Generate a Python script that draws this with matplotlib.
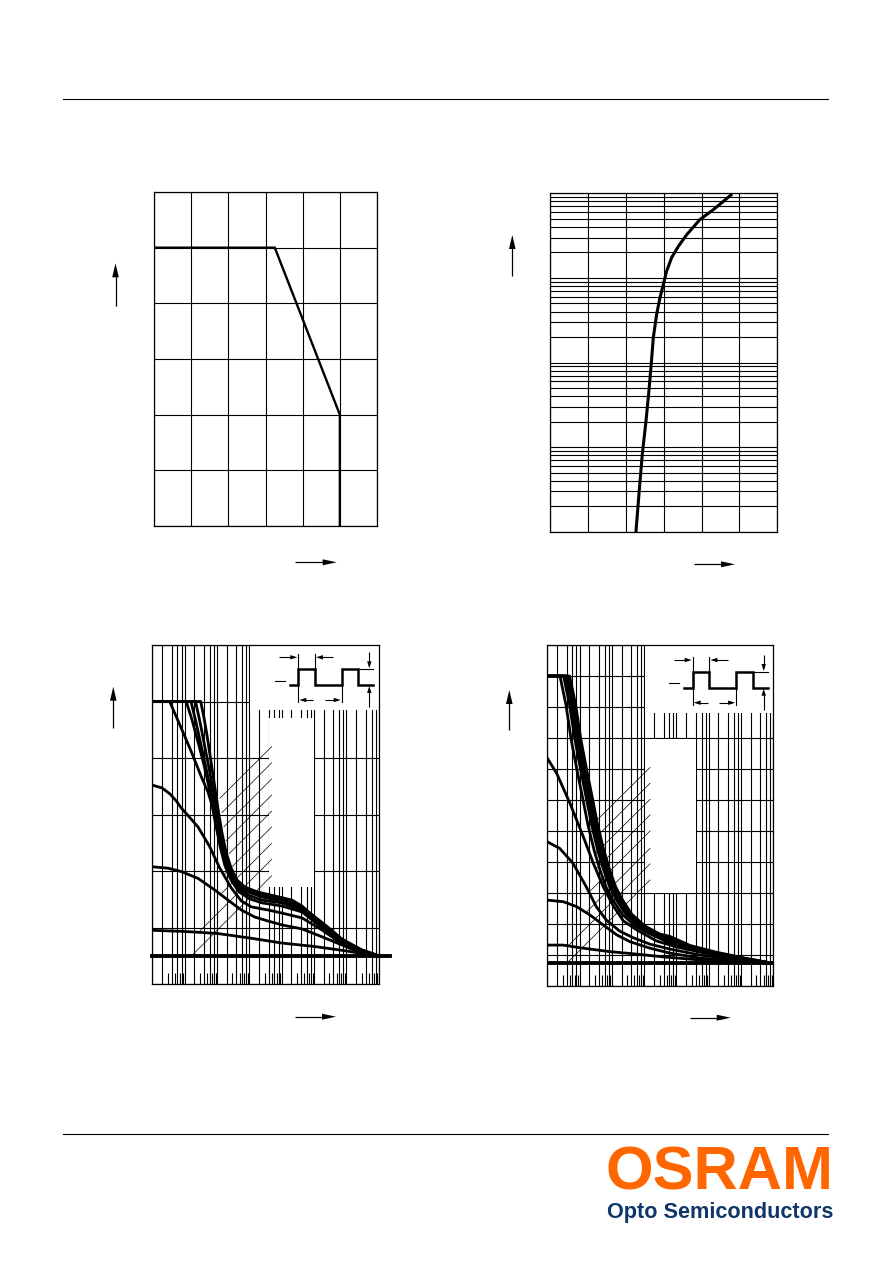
import matplotlib
matplotlib.use("Agg")
import matplotlib.pyplot as plt
from matplotlib.patches import Rectangle, Polygon
from matplotlib.ticker import FixedLocator, NullFormatter, LogLocator

# ======================= DATA =======================
# Chart 1 : derating curve
derate_T = [0, 65, 100, 100]
derate_I = [100, 100, 40, 0]
c1_xticks = [0, 20, 40, 60, 80, 100, 120]
c1_yticks = [0, 20, 40, 60, 80, 100, 120]

# Chart 2 : forward current vs forward voltage
fwd_V = [1.132, 1.176, 1.216, 1.264, 1.30, 1.335, 1.361, 1.405, 1.449, 1.493,
         1.537, 1.604, 1.692, 1.802, 1.978, 2.154, 2.388]
fwd_I = [1e-4, 3.1e-4, 8.3e-4, 2.0e-3, 4.3e-3, 9.8e-3, 1.95e-2, 3.7e-2, 5.8e-2,
         8.3e-2, 0.12, 0.174, 0.236, 0.324, 0.49, 0.64, 0.955]
c2_xticks = [0, 0.5, 1.0, 1.5, 2.0, 2.5, 3.0]

# Chart 3 : pulse handling capability (t_p in s, I_F in A)
c3_dc_t = [1e-5, 2.2e2]
c3_dc_I = [0.1, 0.1]
c3_d05_t = [1e-5, 1e-4, 1e-3, 1e-2, 1e-1, 1, 10, 30, 100]
c3_d05_I = [0.19, 0.186, 0.179, 0.163, 0.145, 0.133, 0.117, 0.108, 0.1]
c3_d02_t = [1e-5, 3.06e-5, 7.89e-5, 2.59e-4, 8.49e-4, 2.19e-3, 5.65e-3, 1.47e-2,
            3.78e-2, 0.103, 0.426, 1.77, 7.36, 30.5, 100]
c3_d02_I = [0.415, 0.41, 0.398, 0.374, 0.333, 0.297, 0.262, 0.237, 0.223, 0.209,
            0.195, 0.167, 0.138, 0.109, 0.1]
c3_d01_t = [1e-5, 2e-5, 3.5e-5, 5.5e-5, 7.89e-5, 1.4e-4, 2.59e-4, 5.96e-4, 1.21e-3,
            2.77e-3, 5.65e-3, 1.15e-2, 3.78e-2, 0.103, 0.426, 1.77, 7.36, 30.5, 100]
c3_d01_I = [0.704, 0.694, 0.673, 0.648, 0.623, 0.591, 0.556, 0.486, 0.411, 0.34,
            0.294, 0.273, 0.262, 0.251, 0.234, 0.191, 0.142, 0.11, 0.1]
c3_d005_t = [1e-5, 3.45e-5, 7.89e-5, 1.61e-4, 3.27e-4, 5.27e-4, 7.02e-4, 9.33e-4,
             1.24e-3, 1.77e-3, 2.72e-3, 4.8e-3, 1.05e-2, 2.47e-2, 0.103, 0.426,
             1.53, 6.37, 30.5, 100]
c3_d005_I = [1.0, 1.0, 0.905, 0.822, 0.734, 0.68, 0.634, 0.559, 0.489, 0.418,
             0.368, 0.326, 0.301, 0.287, 0.276, 0.255, 0.205, 0.152, 0.113, 0.1]
c3_d002_t = [1e-5, 1.12e-4, 1.69e-4, 2.59e-4, 3.97e-4, 5.66e-4, 7.53e-4, 1.0e-3,
             1.33e-3, 1.9e-3, 2.91e-3, 5.15e-3, 1.05e-2, 2.47e-2, 0.103, 0.426,
             1.53, 6.37, 30.5, 100]
c3_d002_I = [1.0, 1.0, 0.935, 0.857, 0.775, 0.697, 0.623, 0.552, 0.481, 0.418,
             0.368, 0.333, 0.312, 0.297, 0.287, 0.262, 0.212, 0.156, 0.117, 0.1]
c3_d001_t = [1e-5, 1.57e-4, 2.24e-4, 3.21e-4, 4.57e-4, 6.31e-4, 8.38e-4, 1.11e-3,
             1.48e-3, 2.11e-3, 3.24e-3, 5.53e-3, 1.13e-2, 2.47e-2, 0.103, 0.426,
             1.53, 6.37, 30.5, 100]
c3_d001_I = [1.0, 1.0, 0.927, 0.846, 0.765, 0.687, 0.616, 0.545, 0.478, 0.418,
             0.372, 0.34, 0.322, 0.308, 0.294, 0.269, 0.218, 0.159, 0.119, 0.1]
c3_d0005_t = [1e-5, 2.17e-4, 2.99e-4, 4.11e-4, 5.66e-4, 7.53e-4, 9.66e-4, 1.24e-3,
              1.65e-3, 2.36e-3, 3.61e-3, 6.38e-3, 1.30e-2, 2.47e-2, 0.103, 0.426,
              1.53, 6.37, 30.5, 100]
c3_d0005_I = [1.0, 1.0, 0.927, 0.846, 0.765, 0.687, 0.616, 0.545, 0.478, 0.418,
              0.372, 0.34, 0.326, 0.315, 0.301, 0.273, 0.223, 0.163, 0.12, 0.1]
c3_single_t = [1e-5, 3.14e-4, 3.97e-4, 4.91e-4, 6.08e-4, 7.53e-4, 9.33e-4, 1.15e-3,
               1.43e-3, 1.9e-3, 2.72e-3, 4.16e-3, 7.35e-3, 1.5e-2, 2.47e-2, 8.28e-2,
               0.209, 0.426, 0.867, 2.91, 9.1, 30.5, 100]
c3_single_I = [1.0, 1.0, 0.942, 0.881, 0.811, 0.74, 0.669, 0.598, 0.535, 0.467,
               0.411, 0.368, 0.343, 0.329, 0.322, 0.308, 0.297, 0.276, 0.244,
               0.198, 0.15, 0.12, 0.1]
c3_lead_t0 = [1.24e-3, 1.43e-3, 1.65e-3, 1.9e-3, 2.36e-3, 1.59e-3, 1.24e-3, 2.59e-4, 1.43e-4]
c3_lead_I0 = [0.658, 0.607, 0.557, 0.507, 0.461, 0.385, 0.315, 0.181, 0.093]
c3_lead_t1 = [0.049, 0.049, 0.049, 0.049, 0.049, 0.049, 0.049, 0.049, 0.049]
c3_lead_I1 = [0.84, 0.783, 0.726, 0.669, 0.612, 0.556, 0.498, 0.441, 0.383]
c3_yticks = [0, 0.2, 0.4, 0.6, 0.8, 1.0, 1.2]

# Chart 4 : pulse handling capability, second condition
c4_dc_t = [1e-5, 100]
c4_dc_I = [0.073, 0.073]
c4_d05_t = [1e-5, 3.06e-5, 1.28e-4, 8.55e-4, 5.7e-3, 3.83e-2, 0.536, 9.3, 100]
c4_d05_I = [0.132, 0.132, 0.122, 0.111, 0.103, 0.094, 0.084, 0.077, 0.073]
c4_d02_t = [1e-5, 3.13e-5, 8.13e-5, 2.1e-4, 5.42e-4, 1.41e-3, 3.64e-3, 1.51e-2,
            6.3e-2, 0.536, 9.3, 100]
c4_d02_I = [0.277, 0.272, 0.256, 0.229, 0.197, 0.165, 0.143, 0.122, 0.106, 0.09,
            0.079, 0.073]
c4_d01_t = [1e-5, 2.42e-5, 6.25e-5, 1.61e-4, 3.29e-4, 6.71e-4, 1.75e-3, 4.51e-3,
            1.51e-2, 6.3e-2, 0.536, 9.3, 100]
c4_d01_I = [0.465, 0.444, 0.396, 0.32, 0.256, 0.213, 0.177, 0.156, 0.135, 0.119,
            0.1, 0.084, 0.073]
c4_d005_t = [1e-5, 1.95e-5, 5.05e-5, 1.3e-4, 2.66e-4, 5.42e-4, 1.11e-3, 2.26e-3,
             5.87e-3, 2.44e-2, 0.1016, 0.865, 9.3, 100]
c4_d005_I = [0.735, 0.686, 0.589, 0.482, 0.396, 0.32, 0.258, 0.21, 0.181, 0.145,
             0.126, 0.105, 0.087, 0.073]
c4_d002_t = [1e-5, 2.47e-5, 3.8e-5, 5.5e-5, 8.3e-5, 1.28e-4, 1.82e-4, 2.8e-4, 4.3e-4,
             6.6e-4, 1.08e-3, 2.06e-3, 5.2e-3, 1.5e-2, 6.3e-2, 0.26, 1.56, 13, 100]
c4_d002_I = [1.0, 1.0, 0.906, 0.794, 0.697, 0.6, 0.519, 0.439, 0.374, 0.319, 0.277,
             0.232, 0.194, 0.168, 0.139, 0.119, 0.102, 0.086, 0.073]
c4_d001_t = [1e-5, 3.2e-5, 4.9e-5, 7.2e-5, 1.08e-4, 1.66e-4, 2.37e-4, 3.6e-4, 5.6e-4,
             8.6e-4, 1.4e-3, 2.7e-3, 6.8e-3, 1.95e-2, 6.3e-2, 0.26, 1.56, 13, 100]
c4_d001_I = [1.0, 1.0, 0.906, 0.794, 0.697, 0.6, 0.519, 0.439, 0.374, 0.319, 0.277,
             0.232, 0.194, 0.168, 0.145, 0.122, 0.104, 0.087, 0.073]
c4_d0005_t = [1e-5, 3.7e-5, 5.7e-5, 8.3e-5, 1.25e-4, 1.92e-4, 2.73e-4, 4.2e-4, 6.5e-4,
              9.9e-4, 1.62e-3, 3.1e-3, 7.8e-3, 2.25e-2, 6.3e-2, 0.26, 1.56, 13, 100]
c4_d0005_I = [1.0, 1.0, 0.906, 0.794, 0.697, 0.6, 0.519, 0.439, 0.374, 0.319, 0.277,
              0.232, 0.194, 0.168, 0.15, 0.125, 0.106, 0.088, 0.073]
c4_d0002_t = [1e-5, 4.2e-5, 6.5e-5, 9.4e-5, 1.41e-4, 2.18e-4, 3.1e-4, 4.8e-4, 7.3e-4,
              1.12e-3, 1.84e-3, 3.5e-3, 8.8e-3, 2.55e-2, 6.3e-2, 0.26, 1.56, 13, 100]
c4_d0002_I = [1.0, 1.0, 0.906, 0.794, 0.697, 0.6, 0.519, 0.439, 0.374, 0.319, 0.277,
              0.232, 0.194, 0.168, 0.155, 0.128, 0.108, 0.089, 0.073]
c4_single_t = [1e-5, 4.9e-5, 7.6e-5, 1.1e-4, 1.66e-4, 2.56e-4, 3.64e-4, 5.6e-4, 8.6e-4,
               1.32e-3, 2.16e-3, 4.1e-3, 1.04e-2, 3.0e-2, 6.3e-2, 0.26, 1.56, 13, 100]
c4_single_I = [1.0, 1.0, 0.906, 0.794, 0.697, 0.6, 0.519, 0.439, 0.374, 0.319, 0.277,
               0.232, 0.194, 0.168, 0.16, 0.131, 0.11, 0.09, 0.073]
c4_lead_t0 = [3.46e-4, 3.34e-4, 3.0e-4, 3.22e-4, 2.1e-4, 1.52e-4, 4.38e-5, 3.99e-5]
c4_lead_I0 = [0.535, 0.481, 0.426, 0.377, 0.306, 0.235, 0.129, 0.073]
c4_lead_t1 = [1.52e-2, 1.52e-2, 1.52e-2, 1.52e-2, 1.52e-2, 1.52e-2, 1.52e-2, 1.52e-2]
c4_lead_I1 = [0.705, 0.654, 0.602, 0.552, 0.5, 0.444, 0.394, 0.342]
c4_yticks = [0, 0.1, 0.2, 0.3, 0.4, 0.5, 0.6, 0.7, 0.8, 0.9, 1.0, 1.1]

logo_word = "OSRAM"
logo_sub = "Opto Semiconductors"

# ======================= FIGURE =======================
W, H = 892, 1263
fig = plt.figure(figsize=(W / 100, H / 100), dpi=100)
fig.patch.set_facecolor("white")
GRID = dict(color="black", linewidth=0.8)


def add_ax(l, t, r, b):
    return fig.add_axes([l / W, 1 - b / H, (r - l) / W, (b - t) / H])


def finish(ax):
    for s in ax.spines.values():
        s.set_linewidth(0.9)
        s.set_color("black")
        s.set_zorder(4)
    ax.set_axisbelow(True)
    ax.xaxis.set_major_formatter(NullFormatter())
    ax.xaxis.set_minor_formatter(NullFormatter())
    ax.yaxis.set_major_formatter(NullFormatter())
    ax.yaxis.set_minor_formatter(NullFormatter())
    ax.tick_params(which="major", length=0)


# ---- chart 1
ax1 = add_ax(154, 192, 377, 526)
ax1.set_xlim(0, 120)
ax1.set_ylim(0, 120)
ax1.set_xticks(c1_xticks)
ax1.set_yticks(c1_yticks)
ax1.grid(True, **GRID)
finish(ax1)
ax1.plot(derate_T, derate_I, color="black", lw=1.7, solid_joinstyle="miter", zorder=3)

# ---- chart 2
ax2 = add_ax(550.3, 193.3, 777.3, 531.7)
ax2.set_yscale("log")
ax2.set_xlim(0, 3)
ax2.set_ylim(1e-4, 1)
ax2.set_xticks(c2_xticks)
ax2.yaxis.set_major_locator(LogLocator(base=10, numticks=10))
ax2.yaxis.set_minor_locator(LogLocator(base=10, subs=(2, 3, 4, 5, 6, 7, 8, 9), numticks=50))
ax2.grid(True, which="both", axis="y", **GRID)
ax2.grid(True, which="major", axis="x", **GRID)
finish(ax2)
ax2.tick_params(which="minor", length=0)
ax2.plot(fwd_V, fwd_I, color="black", lw=2.2, zorder=3)

# ---- charts 3 and 4
major_x = [m * 10.0 ** k for k in range(-5, 2) for m in (1, 2, 4, 6, 8)] + [100.0]
minor_x = [m * 10.0 ** k for k in range(-5, 2) for m in (3, 5, 7, 9)]


def pulse_chart(box, ymax, yticks, curves, dc, lead, label_box, inset_box):
    ax = add_ax(*box)
    ax.set_xscale("log")
    ax.set_xlim(1e-5, 1e2)
    ax.set_ylim(0, ymax)
    ax.xaxis.set_major_locator(FixedLocator(major_x))
    ax.xaxis.set_minor_locator(FixedLocator(minor_x))
    ax.set_yticks(yticks)
    ax.grid(True, which="major", **GRID)
    finish(ax)
    ax.tick_params(axis="x", which="minor", direction="in", length=8, width=0.8,
                   bottom=True, top=False, color="black")
    ax.tick_params(axis="y", which="minor", length=0)
    for (x0, x1, y0, y1) in (label_box, inset_box):
        ax.add_patch(Rectangle((x0, y0), x1 - x0, y1 - y0, facecolor="white",
                               edgecolor="none", zorder=1))
    t0, i0, t1, i1 = lead
    for a, b, c, d in zip(t0, i0, t1, i1):
        ax.plot([a, c], [b, d], color="black", lw=0.5, zorder=2)
    for t, i in curves:
        ax.plot(t, i, color="black", lw=2.0, zorder=3, solid_joinstyle="round")
    ax.plot(dc[0], dc[1], color="black", lw=2.8, zorder=3, clip_on=dc[2])
    return ax


ax3 = pulse_chart(
    (152.3, 645, 378.7, 984), 1.2, c3_yticks,
    [(c3_d05_t, c3_d05_I), (c3_d02_t, c3_d02_I), (c3_d01_t, c3_d01_I),
     (c3_d005_t, c3_d005_I), (c3_d002_t, c3_d002_I), (c3_d001_t, c3_d001_I),
     (c3_d0005_t, c3_d0005_I), (c3_single_t, c3_single_I)],
    (c3_dc_t, c3_dc_I, False),
    (c3_lead_t0, c3_lead_I0, c3_lead_t1, c3_lead_I1),
    (4.1e-2, 0.975, 0.343, 0.942), (1.03e-2, 100, 0.97, 1.2))

ax4 = pulse_chart(
    (547.3, 645, 773.3, 986), 1.1, c4_yticks,
    [(c4_d05_t, c4_d05_I), (c4_d02_t, c4_d02_I), (c4_d01_t, c4_d01_I),
     (c4_d005_t, c4_d005_I), (c4_d002_t, c4_d002_I), (c4_d001_t, c4_d001_I),
     (c4_d0005_t, c4_d0005_I), (c4_d0002_t, c4_d0002_I), (c4_single_t, c4_single_I)],
    (c4_dc_t, c4_dc_I, True),
    (c4_lead_t0, c4_lead_I0, c4_lead_t1, c4_lead_I1),
    (1.05e-2, 0.39, 0.299, 0.796), (1.03e-2, 100, 0.88, 1.1))

# ======================= PAGE OVERLAY (pixel coords) =======================
ov = fig.add_axes([0, 0, 1, 1], zorder=10)
ov.set_xlim(0, W)
ov.set_ylim(H, 0)
ov.axis("off")


def harrow(x_tail, x_tip, y, hl, hw, lw):
    d = 1 if x_tip > x_tail else -1
    ov.plot([x_tail, x_tip - d * hl * 0.5], [y, y], color="black", lw=lw,
            solid_capstyle="butt")
    ov.add_patch(Polygon([[x_tip, y], [x_tip - d * hl, y - hw], [x_tip - d * hl, y + hw]],
                         closed=True, facecolor="black", edgecolor="none"))


def varrow(x, y_tail, y_tip, hl, hw, lw):
    d = 1 if y_tip > y_tail else -1
    ov.plot([x, x], [y_tail, y_tip - d * hl * 0.5], color="black", lw=lw,
            solid_capstyle="butt")
    ov.add_patch(Polygon([[x, y_tip], [x - hw, y_tip - d * hl], [x + hw, y_tip - d * hl]],
                         closed=True, facecolor="black", edgecolor="none"))


# header / footer rules
ov.plot([63, 828], [98.5, 98.5], color="black", lw=0.8)
ov.plot([63, 828], [1134, 1134], color="black", lw=0.8)

# axis direction arrows
for (x, yt, yh) in [(115.5, 305.7, 263.3), (512.3, 276, 235), (113.3, 727.7, 686.7),
                    (509.3, 730, 690)]:
    varrow(x, yt, yh, 14, 3.3, 0.9)
for (y, xt, xh) in [(562.3, 295, 336.7), (564.3, 694, 735), (1016.7, 295, 336),
                    (1017.7, 690, 730.7)]:
    harrow(xt, xh, y, 14, 3.0, 0.9)


def pulse_sketch(x0, yb):
    hi = yb - 15.7
    ov.plot([x0 - 8.3, x0, x0, x0 + 16.7, x0 + 16.7, x0 + 43.4, x0 + 43.4, x0 + 60,
             x0 + 60, x0 + 75],
            [yb, yb, hi, hi, yb, yb, hi, hi, yb, yb],
            color="black", lw=1.8, solid_joinstyle="miter")
    thin = dict(color="black", lw=0.8)
    ov.plot([x0 - 23.3, x0 - 13.3], [yb - 4.3, yb - 4.3], **thin)
    ov.plot([x0, x0], [yb - 31, yb + 17], **thin)
    ov.plot([x0 + 16.7, x0 + 16.7], [yb - 31, hi], **thin)
    ov.plot([x0 + 43.4, x0 + 43.4], [yb, yb + 17], **thin)
    ov.plot([x0 + 60, x0 + 75], [hi, hi], **thin)
    harrow(x0 - 19, x0 - 1, yb - 27.7, 7, 2.2, 0.8)
    harrow(x0 + 35, x0 + 17.7, yb - 27.7, 7, 2.2, 0.8)
    harrow(x0 + 15, x0 + 1, yb + 15, 7, 2.2, 0.8)
    harrow(x0 + 26.7, x0 + 42.4, yb + 15, 7, 2.2, 0.8)
    varrow(x0 + 71, yb - 33, hi - 1, 7, 2.2, 0.8)
    varrow(x0 + 71, yb + 22, yb + 1, 7, 2.2, 0.8)


pulse_sketch(298.3, 685)
pulse_sketch(692.7, 687.7)

# logo (real text, width fitted at run time)
renderer = fig.canvas.get_renderer()


def fit_text(s, x, y_base, width, size, color):
    t = ov.text(x, y_base, s, fontsize=size, fontweight="bold", family="Liberation Sans",
                color=color, ha="left", va="baseline")
    w = t.get_window_extent(renderer).width
    t.set_fontsize(size * width / w)
    return t


fit_text(logo_word, 605, 1190, 228, 46, "#FF6600")
fit_text(logo_sub, 607, 1218, 226, 13, "#0F3668")

fig.savefig("out.png", dpi=100, facecolor="white")
